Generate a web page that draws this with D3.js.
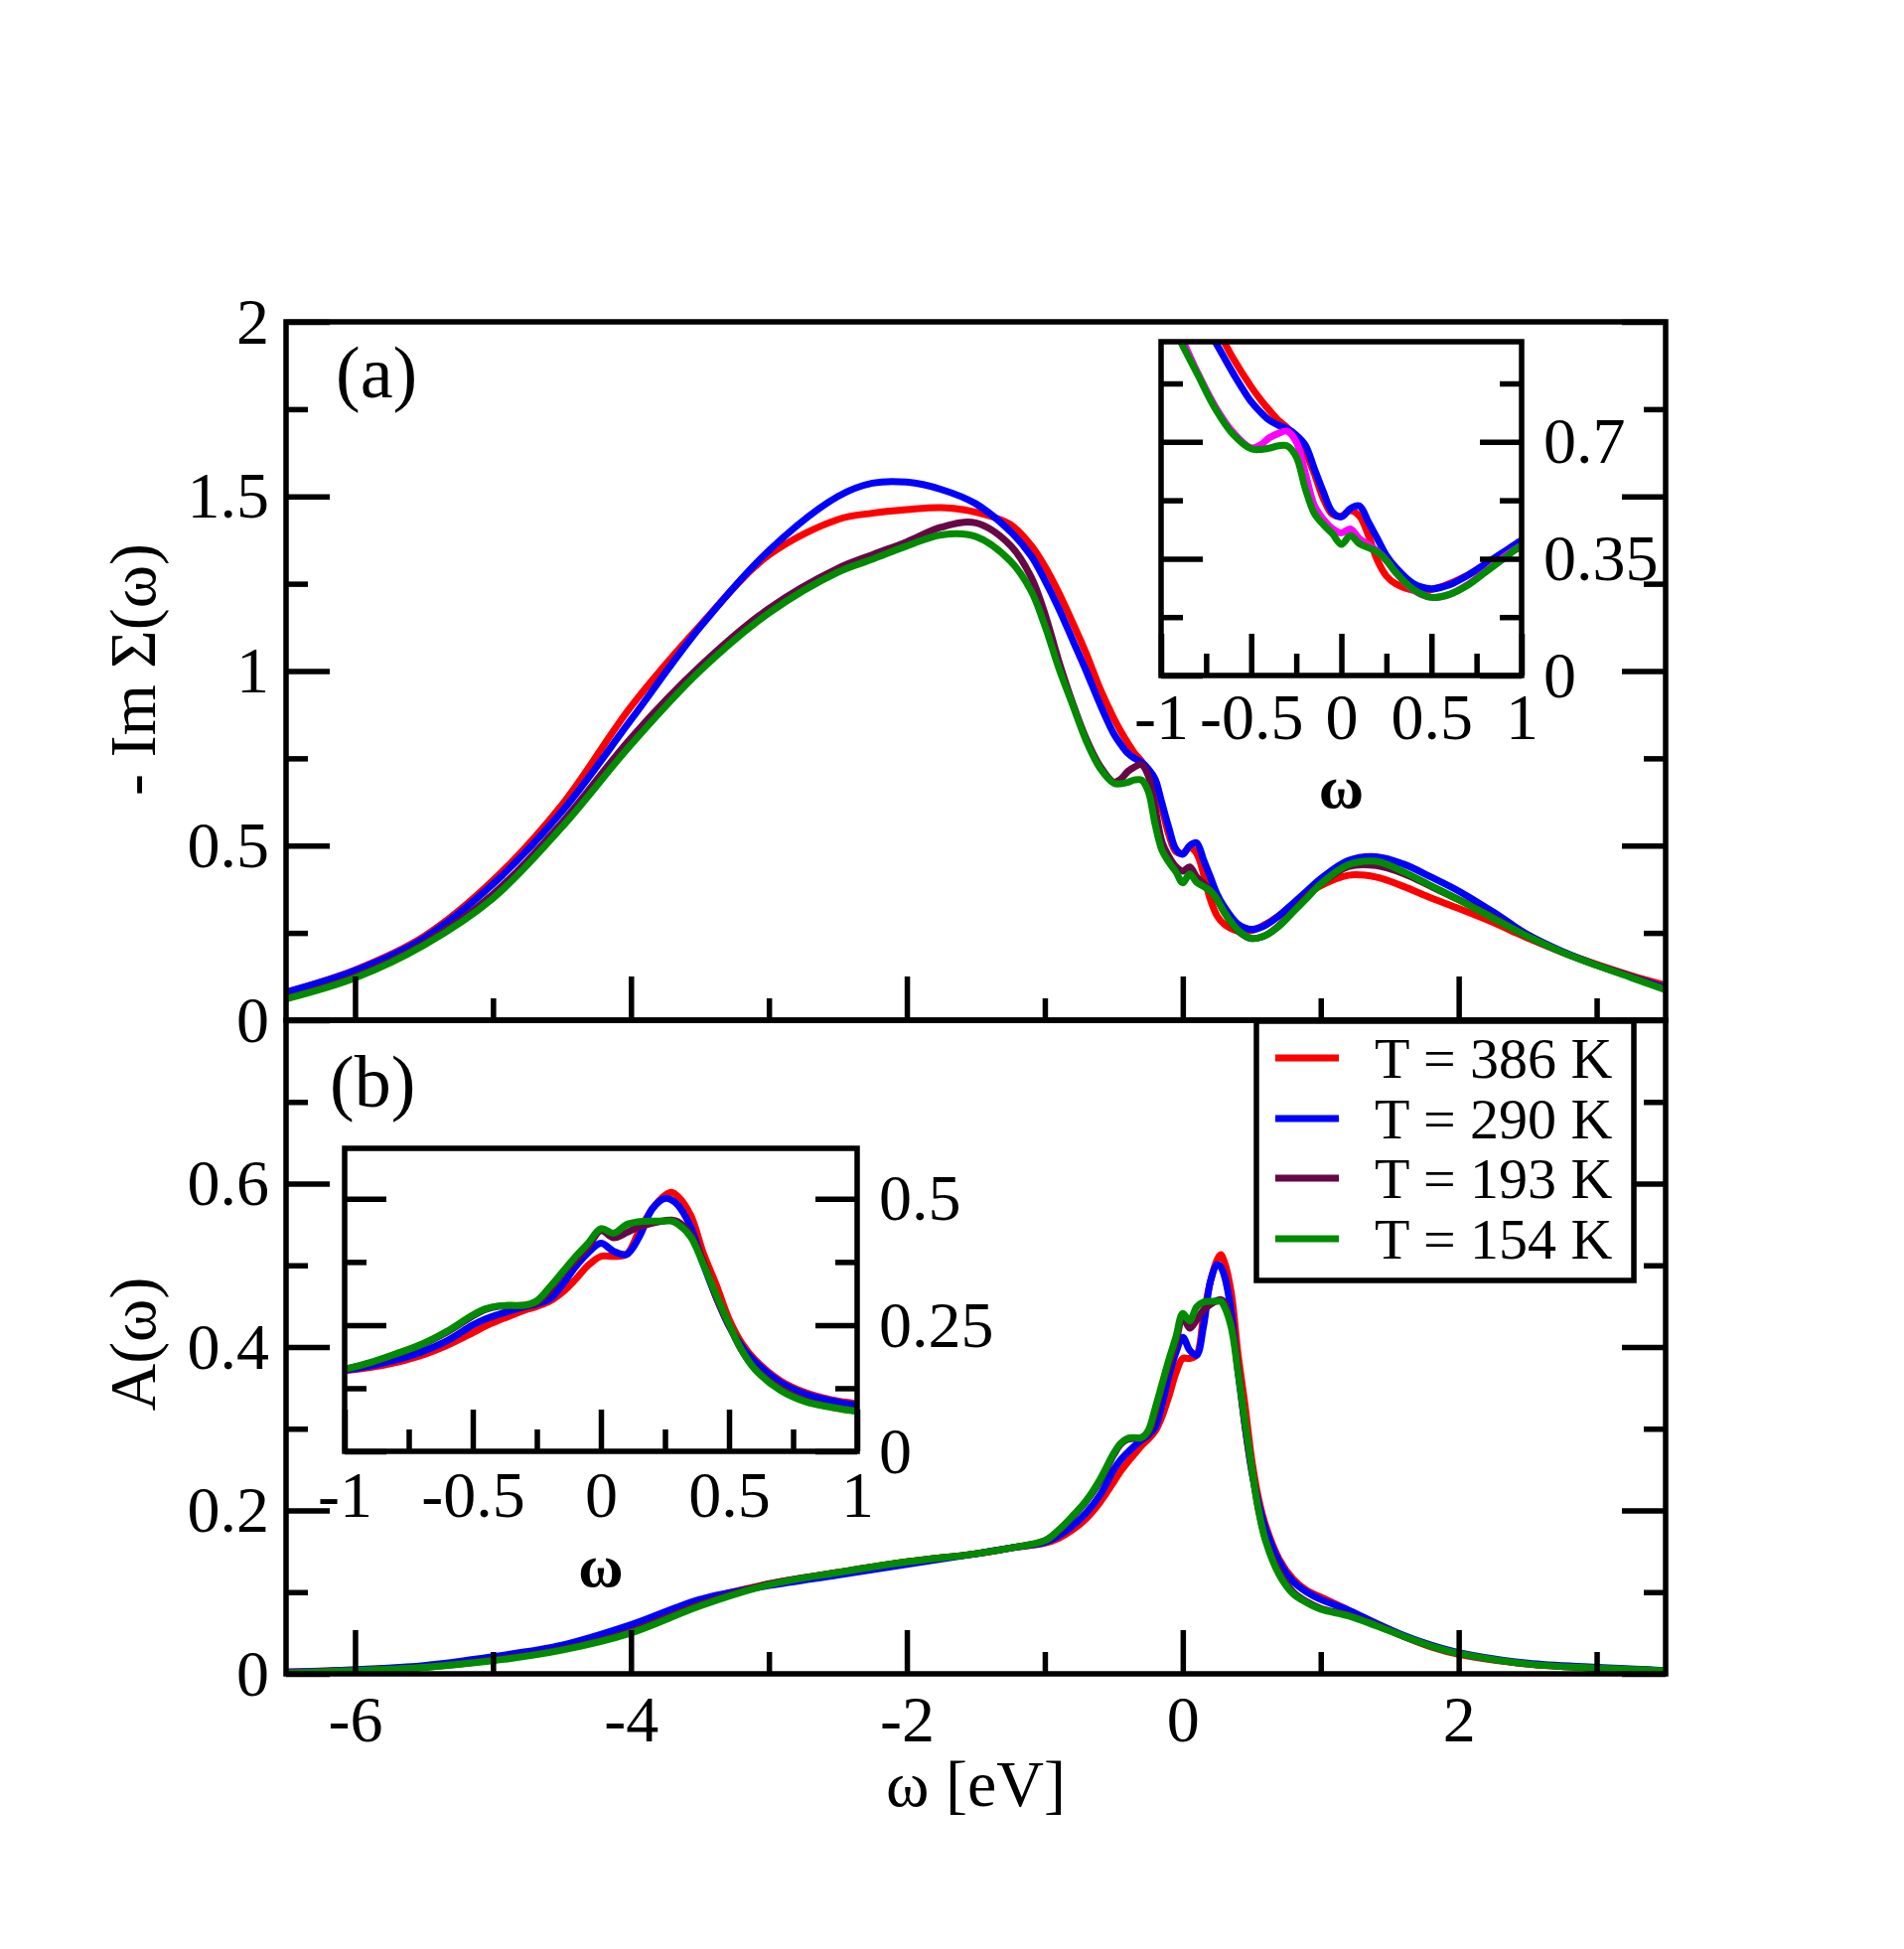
<!DOCTYPE html>
<html><head><meta charset="utf-8">
<script src="https://cdn.jsdelivr.net/npm/d3@7"></script>
<style>
html,body{margin:0;padding:0;background:#fff;}
svg{display:block;}
text{font-family:"Liberation Serif","Times New Roman",serif;fill:#000;}
</style></head><body>
<svg id="chart" width="1917" height="1962"></svg>
<script>
// ---------- data ----------
const omegaSigma = [-6.5,-6,-5.5,-5,-4.5,-4,-3.5,-3,-2.5,-2.25,-2,-1.75,-1.5,-1.25,-1.1,-1,-0.9,-0.8,-0.7,-0.6,-0.5,-0.45,-0.4,-0.35,-0.3,-0.25,-0.2,-0.15,-0.1,-0.05,0,0.05,0.1,0.15,0.2,0.25,0.3,0.4,0.5,0.6,0.7,0.8,0.9,1,1.2,1.4,1.6,1.8,2,2.25,2.5,2.75,3,3.25,3.5];
const sigma386 = [0.08,0.144,0.24,0.40,0.617,0.898,1.13,1.332,1.434,1.452,1.462,1.468,1.455,1.42,1.36,1.30,1.225,1.14,1.05,0.95,0.865,0.828,0.795,0.765,0.742,0.712,0.67,0.605,0.53,0.483,0.478,0.494,0.478,0.42,0.345,0.298,0.275,0.255,0.257,0.275,0.30,0.33,0.36,0.385,0.415,0.41,0.383,0.35,0.32,0.28,0.235,0.195,0.16,0.128,0.10];
const sigma290 = [0.08,0.142,0.235,0.39,0.598,0.86,1.125,1.345,1.50,1.538,1.541,1.52,1.479,1.40,1.33,1.26,1.18,1.09,1.0,0.905,0.82,0.79,0.765,0.75,0.739,0.72,0.69,0.62,0.55,0.49,0.475,0.50,0.508,0.46,0.41,0.36,0.325,0.275,0.26,0.272,0.30,0.335,0.37,0.405,0.457,0.468,0.447,0.41,0.37,0.31,0.245,0.197,0.158,0.125,0.093];
const sigma193 = [0.062,0.125,0.22,0.361,0.566,0.808,1.013,1.179,1.294,1.333,1.37,1.412,1.424,1.36,1.27,1.165,1.03,0.91,0.806,0.728,0.682,0.69,0.712,0.725,0.732,0.70,0.606,0.51,0.468,0.44,0.427,0.439,0.41,0.392,0.372,0.345,0.31,0.256,0.234,0.243,0.272,0.312,0.355,0.39,0.44,0.443,0.42,0.383,0.345,0.295,0.24,0.195,0.158,0.125,0.088];
const sigma154 = [0.061,0.121,0.215,0.349,0.553,0.789,1.0,1.166,1.283,1.32,1.358,1.39,1.385,1.315,1.23,1.13,1.01,0.905,0.80,0.722,0.679,0.677,0.681,0.688,0.688,0.655,0.56,0.486,0.452,0.425,0.393,0.419,0.395,0.383,0.37,0.345,0.31,0.258,0.234,0.243,0.27,0.31,0.35,0.39,0.445,0.455,0.425,0.385,0.345,0.292,0.24,0.195,0.157,0.122,0.087];

const omegaA = [-6.5,-6,-5.5,-5,-4.5,-4,-3.5,-3,-2.5,-2,-1.5,-1.25,-1,-0.9,-0.8,-0.7,-0.6,-0.5,-0.45,-0.4,-0.35,-0.3,-0.25,-0.2,-0.15,-0.1,-0.05,0,0.05,0.1,0.15,0.2,0.25,0.275,0.3,0.35,0.4,0.45,0.5,0.55,0.6,0.7,0.8,0.9,1,1.2,1.4,1.6,1.8,2,2.5,3,3.5];
const spec386 = [0.002,0.005,0.009,0.019,0.033,0.058,0.089,0.11,0.124,0.137,0.147,0.154,0.16,0.166,0.176,0.19,0.21,0.235,0.248,0.259,0.269,0.279,0.287,0.297,0.315,0.34,0.368,0.386,0.386,0.39,0.437,0.48,0.507,0.513,0.505,0.468,0.392,0.33,0.262,0.214,0.182,0.14,0.116,0.102,0.094,0.078,0.061,0.046,0.033,0.024,0.012,0.007,0.004];
const spec290 = [0.002,0.005,0.01,0.021,0.035,0.06,0.091,0.108,0.121,0.134,0.147,0.154,0.161,0.169,0.181,0.197,0.219,0.25,0.262,0.271,0.279,0.286,0.292,0.302,0.33,0.365,0.393,0.412,0.396,0.39,0.425,0.48,0.501,0.498,0.488,0.445,0.37,0.305,0.248,0.208,0.178,0.137,0.113,0.1,0.091,0.078,0.062,0.047,0.035,0.026,0.013,0.008,0.004];
const spec193 = [0.001,0.004,0.008,0.017,0.03,0.052,0.085,0.11,0.124,0.137,0.147,0.154,0.163,0.175,0.192,0.211,0.236,0.268,0.281,0.287,0.288,0.289,0.295,0.318,0.352,0.378,0.405,0.437,0.423,0.433,0.445,0.452,0.457,0.458,0.455,0.43,0.375,0.305,0.25,0.2,0.165,0.125,0.1,0.088,0.08,0.072,0.06,0.046,0.034,0.025,0.012,0.007,0.004];
const spec154 = [0.001,0.004,0.008,0.016,0.029,0.05,0.083,0.109,0.124,0.137,0.147,0.154,0.163,0.176,0.193,0.212,0.238,0.27,0.282,0.288,0.289,0.289,0.298,0.325,0.355,0.385,0.412,0.441,0.432,0.449,0.455,0.456,0.456,0.456,0.45,0.425,0.37,0.31,0.252,0.2,0.163,0.121,0.098,0.087,0.079,0.071,0.059,0.046,0.034,0.025,0.012,0.007,0.004];

const seriesLabels = ["T = 386 K","T = 290 K","T = 193 K","T = 154 K"];
const seriesColors = ["#ff0000","#0000ff","#670748","#008b00"];
const insetSigmaColors = ["#ff0000","#0000ff","#ff00ff","#008b00"];

const xMajorTicks = [-6,-4,-2,0,2];
const xMinorTicks = [-5,-3,-1,1,3];
const sigmaMajorTicks = [0,0.5,1,1.5,2];
const sigmaMinorTicks = [0.25,0.75,1.25,1.75];
const specMajorTicks = [0,0.2,0.4,0.6];
const specMinorTicks = [0.1,0.3,0.5,0.7];
const insetXMajorTicks = [-1,-0.5,0,0.5,1];
const insetXMinorTicks = [-0.75,-0.25,0.25,0.75];
const insetSigmaMajorTicks = [0,0.35,0.7];
const insetSigmaMinorTicks = [0.175,0.525,0.875];
const insetSpecMajorTicks = [0,0.25,0.5];
const insetSpecMinorTicks = [0.125,0.375];

// ---------- layout ----------
const L = 288, R = 1677, T = 324, M = 1027, B = 1685;
const FS = 66, LW = 5.5, CW = 7;
const MAJ = 44, MIN = 22;
const svg = d3.select("#chart");

const x = d3.scaleLinear().domain([-6.5, 3.5]).range([L, R]);
const ySig = d3.scaleLinear().domain([0, 2]).range([M, T]);
const yA = d3.scaleLinear().domain([0, 0.8]).range([B, M]);

const insA = {l:1169, r:1532, t:344, b:680};
const xiA = d3.scaleLinear().domain([-1, 1]).range([insA.l, insA.r]);
const yiA = d3.scaleLinear().domain([0, 1]).range([insA.b, insA.t]);
const insB = {l:347, r:863, t:1156, b:1461};
const xiB = d3.scaleLinear().domain([-1, 1]).range([insB.l, insB.r]);
const yiB = d3.scaleLinear().domain([0, 0.6]).range([insB.b, insB.t]);

const fmt = v => String(v);
const defs = svg.append("defs");
function clip(id, x0, y0, x1, y1) {
  defs.append("clipPath").attr("id", id).append("rect")
    .attr("x", x0).attr("y", y0).attr("width", x1 - x0).attr("height", y1 - y0);
}
clip("cTop", L, T, R, M);
clip("cBot", L, M, R, B);
clip("cInsA", insA.l, insA.t, insA.r, insA.b);
clip("cInsB", insB.l, insB.t, insB.r, insB.b);

function drawCurves(clipId, xs, ys, omegaArr, seriesArr, colors) {
  const g = svg.append("g").attr("clip-path", `url(#${clipId})`);
  seriesArr.forEach((vals, i) => {
    const pts = omegaArr.map((w, k) => [w, vals[k]]);
    g.append("path").datum(pts)
      .attr("fill", "none").attr("stroke", colors[i])
      .attr("stroke-width", CW).attr("stroke-linejoin", "round")
      .attr("d", d3.line().x(d => xs(d[0])).y(d => ys(d[1])).curve(d3.curveCatmullRom.alpha(0.5)));
  });
}

function axis(gen, scale, ticks, size, pos, opts = {}) {
  const a = gen(scale).tickValues(ticks).tickSize(-size).tickPadding(opts.pad || 0)
    .tickFormat(opts.labels ? fmt : () => "");
  const g = svg.append("g").attr("transform", pos).call(a);
  g.select(".domain").remove();
  g.selectAll(".tick line").attr("stroke", "#000").attr("stroke-width", LW);
  g.attr("font-size", FS).attr("font-family", '"Liberation Serif","Times New Roman",serif');
  g.selectAll(".tick text").attr("fill", "#000");
  return g;
}

function frame(x0, y0, x1, y1, fill) {
  svg.append("rect").attr("x", x0).attr("y", y0).attr("width", x1 - x0).attr("height", y1 - y0)
    .attr("fill", fill || "none").attr("stroke", "#000").attr("stroke-width", LW);
}

// ---------- main panels: curves ----------
const sigmaSeries = [sigma386, sigma290, sigma193, sigma154];
const specSeries = [spec386, spec290, spec193, spec154];
drawCurves("cTop", x, ySig, omegaSigma, sigmaSeries, seriesColors);
drawCurves("cBot", x, yA, omegaA, specSeries, seriesColors);

// ---------- main axes ----------
axis(d3.axisBottom, x, xMajorTicks, MAJ, `translate(0,${M})`);
axis(d3.axisBottom, x, xMinorTicks, MIN, `translate(0,${M})`);
axis(d3.axisLeft, ySig, sigmaMajorTicks, MAJ, `translate(${L},0)`, {labels:true, pad:17});
axis(d3.axisLeft, ySig, sigmaMinorTicks, MIN, `translate(${L},0)`);
axis(d3.axisRight, ySig, sigmaMajorTicks, MAJ, `translate(${R},0)`);
axis(d3.axisRight, ySig, sigmaMinorTicks, MIN, `translate(${R},0)`);
axis(d3.axisBottom, x, xMajorTicks, MAJ, `translate(0,${B})`, {labels:true, pad:21});
axis(d3.axisBottom, x, xMinorTicks, MIN, `translate(0,${B})`);
axis(d3.axisLeft, yA, specMajorTicks, MAJ, `translate(${L},0)`, {labels:true, pad:17});
axis(d3.axisLeft, yA, specMinorTicks, MIN, `translate(${L},0)`);
axis(d3.axisRight, yA, specMajorTicks, MAJ, `translate(${R},0)`);
axis(d3.axisRight, yA, specMinorTicks, MIN, `translate(${R},0)`);

frame(L, T, R, M);
frame(L, M, R, B);

// ---------- inset (a) ----------
svg.append("rect").attr("x", insA.l).attr("y", insA.t).attr("width", insA.r - insA.l)
  .attr("height", insA.b - insA.t).attr("fill", "#fff");
drawCurves("cInsA", xiA, yiA, omegaSigma, sigmaSeries, insetSigmaColors);
axis(d3.axisBottom, xiA, insetXMajorTicks, 42, `translate(0,${insA.b})`, {labels:true, pad:17});
axis(d3.axisBottom, xiA, insetXMinorTicks, MIN, `translate(0,${insA.b})`);
axis(d3.axisLeft, yiA, insetSigmaMajorTicks, 42, `translate(${insA.l},0)`);
axis(d3.axisLeft, yiA, insetSigmaMinorTicks, MIN, `translate(${insA.l},0)`);
axis(d3.axisRight, yiA, insetSigmaMajorTicks, 42, `translate(${insA.r},0)`, {labels:true, pad:22});
axis(d3.axisRight, yiA, insetSigmaMinorTicks, MIN, `translate(${insA.r},0)`);
frame(insA.l, insA.t, insA.r, insA.b);
svg.append("text").attr("x", (insA.l + insA.r) / 2).attr("y", 813)
  .attr("text-anchor", "middle").attr("font-size", 62).attr("font-weight", "bold").text("ω");

// ---------- inset (b) ----------
svg.append("rect").attr("x", insB.l).attr("y", insB.t).attr("width", insB.r - insB.l)
  .attr("height", insB.b - insB.t).attr("fill", "#fff");
drawCurves("cInsB", xiB, yiB, omegaA, specSeries, seriesColors);
axis(d3.axisBottom, xiB, insetXMajorTicks, 42, `translate(0,${insB.b})`, {labels:true, pad:19});
axis(d3.axisBottom, xiB, insetXMinorTicks, MIN, `translate(0,${insB.b})`);
axis(d3.axisLeft, yiB, insetSpecMajorTicks, 42, `translate(${insB.l},0)`);
axis(d3.axisLeft, yiB, insetSpecMinorTicks, MIN, `translate(${insB.l},0)`);
axis(d3.axisRight, yiB, insetSpecMajorTicks, 42, `translate(${insB.r},0)`, {labels:true, pad:22});
axis(d3.axisRight, yiB, insetSpecMinorTicks, MIN, `translate(${insB.r},0)`);
frame(insB.l, insB.t, insB.r, insB.b);
svg.append("text").attr("x", (insB.l + insB.r) / 2).attr("y", 1597)
  .attr("text-anchor", "middle").attr("font-size", 62).attr("font-weight", "bold").text("ω");

// ---------- legend ----------
const leg = {l:1265, t:1028, r:1645, b:1289};
frame(leg.l, leg.t, leg.r, leg.b, "#fff");
const legRows = [1065, 1126, 1186, 1247];
seriesLabels.forEach((lab, i) => {
  svg.append("line").attr("x1", 1284).attr("x2", 1348).attr("y1", legRows[i]).attr("y2", legRows[i])
    .attr("stroke", seriesColors[i]).attr("stroke-width", CW);
  svg.append("text").attr("x", 1384).attr("y", legRows[i]).attr("dy", "0.35em")
    .attr("font-size", 58).text(lab);
});

// ---------- labels ----------
svg.append("text").attr("x", 338).attr("y", 400).attr("font-size", 74).text("(a)");
svg.append("text").attr("x", 332).attr("y", 1114).attr("font-size", 74).text("(b)");
svg.append("text").attr("transform", "translate(156,674) rotate(-90)")
  .attr("text-anchor", "middle").attr("font-size", FS).text("- Im Σ(ω)");
svg.append("text").attr("transform", "translate(156,1353) rotate(-90)")
  .attr("text-anchor", "middle").attr("font-size", FS).text("A(ω)");
svg.append("text").attr("x", (L + R) / 2).attr("y", 1818)
  .attr("text-anchor", "middle").attr("font-size", FS).text("ω [eV]");
</script>
</body></html>
